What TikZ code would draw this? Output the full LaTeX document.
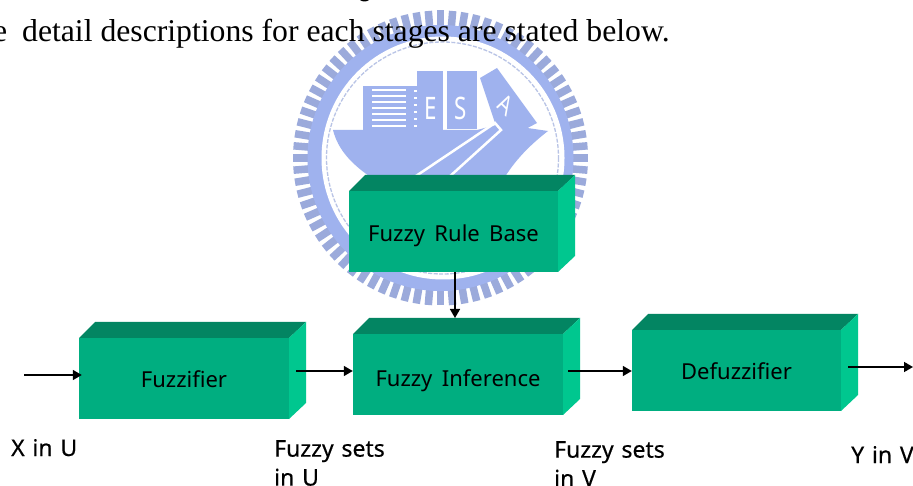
\documentclass[tikz,border=0pt]{standalone}
\usepackage{fontspec}
\setmainfont{Liberation Serif}
\newfontfamily\diagfont{Noto Sans}
\newfontfamily\labfont[FakeBold=0.35,WordSpace=1.3]{Noto Sans}
\usetikzlibrary{arrows.meta,calc}
\definecolor{frontc}{HTML}{00AE80}
\definecolor{topc}{HTML}{038562}
\definecolor{sidec}{HTML}{00C78F}
\definecolor{logoc}{HTML}{9FB2EE}
\definecolor{logotooth}{HTML}{9BAADB}
\tikzset{
  frontface/.style={fill=frontc,inner sep=0pt,text height=18pt,text depth=0pt,font=\diagfont\fontsize{22}{26}\selectfont},
  arr/.style={draw=black,line width=1.5pt,-{Triangle[length=9pt,width=10pt]}},
  lab/.style={inner sep=0pt,anchor=base west,align=left,font=\labfont\fontsize{23}{29}\selectfont},
  logoletter/.style={text=white,inner sep=0pt,xscale=.72,transform shape,font=\diagfont\fontsize{31}{34}\selectfont},
  stripe/.style={draw=white,line width=2.5pt}
}
\newcommand\gbox[6]{%
  \fill[topc] (#2,#3) -- (#2+16,#3-16) -- (#4+17,#3-16) -- (#4,#3) -- cycle;
  \fill[sidec] (#4,#3) -- (#4+17,#3-16) -- (#4+17,#5-16) -- (#4,#5) -- cycle;
  \node[frontface,minimum width={(#4-#2)*1pt},minimum height={(#5-#3)*1pt}] (#1) at ({(#2+#4)/2},{(#3+#5)/2}) {#6};
  \coordinate (#1top) at (#2,#3-16);
}
\begin{document}
\begin{tikzpicture}[x=1pt,y=-1pt]
\useasboundingbox (0,0) rectangle (913,486);
\fill[white] (0,0) rectangle (913,486);
% logo ring
\foreach \i in {0,...,75}{
  \pgfmathsetmacro\ang{270+\i*4.73684}
  \draw[logotooth,line width=7.5pt] ({440.5+128*cos(\ang)},{158-128*sin(\ang)}) -- ({440.5+147.5*cos(\ang)},{158-147.5*sin(\ang)});
}
\fill[logoc] (440.5,158) circle (133);
\fill[white] (443,158) circle (121.5);
\draw[logotooth!70,line width=1.3pt,dash pattern=on 4pt off 1.5pt] (442.5,158) circle (116);
% hull
\fill[logoc] (333,130) -- (477,130) -- (500,124) -- (548,131)
  .. controls (530,145) and (515,160) .. (503,180) -- (375,180)
  .. controls (352,165) and (338,150) .. (333,130) -- cycle;
% containers
\fill[logoc] (363,86) rectangle (417,131);
\foreach \s in {90,96,...,126}{\draw[white,line width=2.2pt] (372,\s) -- (406,\s);}
\fill[logoc] (417,71) rectangle (443,131);
\foreach \s in {90,97,...,127}{\fill[white] (414,\s) rectangle (417,\s+2);}
\fill[logoc] (447,71) rectangle (477,129);
\fill[logoc] (480,78) -- (497,68) -- (537,123) -- (520,132) -- (505,132) -- (495,123) -- cycle;
\node[logoletter] (le) at (431,108) {E};
\node[logoletter] (ls) at (461,108) {S};
\node[logoletter,rotate=-35,font=\diagfont\fontsize{27}{30}\selectfont] (la) at (506,105) {A};
\draw[stripe] (413,178) -- (495,123) -- (501,130) -- (448,178);
\draw[white,line width=1pt] (533,158) circle (3.5);
\draw[white,line width=1pt] (530,163) -- (530,172) -- (536,172) -- (536,163);
% body text
\node[inner sep=0pt,anchor=base west,font=\fontsize{31.7}{36}\selectfont] (body) at (-7,42) {e\hspace{7pt} detail descriptions for each stages are stated below.};
\fill[black] (360,0) -- (369,0) .. controls (367,2) and (362,2) .. (360,0) -- cycle;
% boxes
\gbox{rule}{349}{191}{558}{272}{\raisebox{-1.5pt}{Fuzzy\ \,Rule\ \,Base}}
\gbox{fuzz}{79}{338}{289}{419}{Fuzzifier}
\gbox{inf}{353}{334}{563}{415}{\raisebox{-2.5pt}{Fuzzy\ \,Inference}}
\gbox{defuzz}{632}{330}{841}{411}{Defuzzifier}
% connectors
\coordinate (xin) at (24,375);
\coordinate (fo) at ([shift={(7,-7.5)}]fuzz.east);
\coordinate (io) at ([shift={(5,-3.5)}]inf.east);
\coordinate (do) at ([shift={(7,-3.5)}]defuzz.east);
\coordinate (yout) at (913,367);
\coordinate (rb) at ([xshift=1.5pt]rule.south);
\draw[arr,shorten >=-3pt] (xin) -- (xin -| fuzz.west);
\draw[arr] (fo) -- (fo -| inf.west);
\draw[arr] (io) -- (io -| defuzz.west);
\draw[arr] (do) -- (yout);
\draw[arr] (rb) -- (rb |- inftop);
% labels
\node[lab] (lx) at (11,456) {X in U};
\node[lab,anchor=north west] (lu) at (274,440) {Fuzzy sets\\in U};
\node[lab,anchor=north west] (lv) at (554,441) {Fuzzy sets\\in V};
\node[lab] (ly) at (851,463) {Y in V};
\end{tikzpicture}
\end{document}
